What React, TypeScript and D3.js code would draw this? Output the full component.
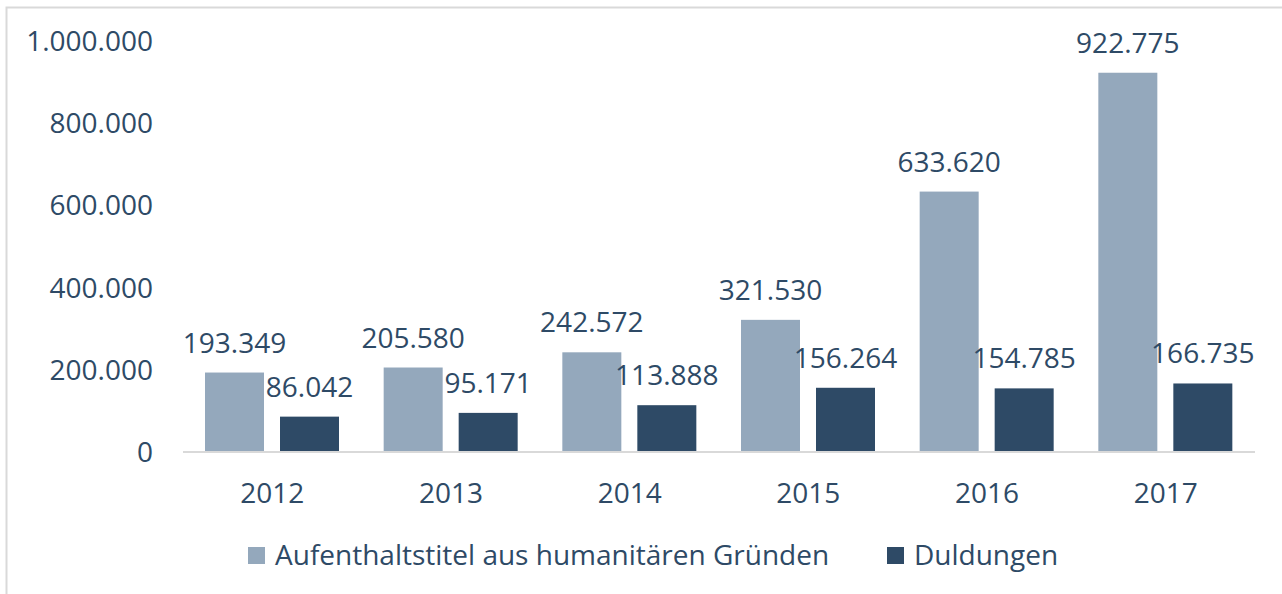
import { useEffect, useRef } from 'react';
import * as d3 from 'd3';

const years = ['2012', '2013', '2014', '2015', '2016', '2017'];
const humanitaer = [193349, 205580, 242572, 321530, 633620, 922775];
const duldungen = [86042, 95171, 113888, 156264, 154785, 166735];
const yTicks = [0, 200000, 400000, 600000, 800000, 1000000];
const seriesNames = ['Aufenthaltstitel aus humanitären Gründen', 'Duldungen'];
const colors = ['#94a8bc', '#2e4a66'];

const W = 1282;
const H = 594;
const FONT = '"Open Sans", sans-serif';
const FS = 28;
const TEXT = '#2e4a66';

// german number format: 1.000.000
const fmt = (v: number) => d3.format(',')(v).replace(/,/g, '.');

export default function App() {
    const ref = useRef<SVGSVGElement>(null);

    useEffect(() => {
        const svg = d3.select(ref.current);
        svg.selectAll('*').remove();

        // frame of the original chart area
        svg.append('path')
            .attr('d', `M6.5,${H} L6.5,7.5 L${W},7.5`)
            .attr('fill', 'none')
            .attr('stroke', '#d9d9d9')
            .attr('stroke-width', 2);

        const x0 = d3.scaleBand().domain(years).range([183, 1255]);
        const y = d3.scaleLinear().domain([0, 1000000]).range([452, 41]);
        const barW = 59;
        const gap = 16;
        const padL = 22;

        // y tick labels
        svg.append('g').selectAll('text')
            .data(yTicks)
            .enter().append('text')
            .attr('x', 153)
            .attr('y', d => y(d))
            .attr('dy', '0.357em')
            .attr('text-anchor', 'end')
            .attr('font-family', FONT)
            .attr('font-size', FS)
            .attr('fill', TEXT)
            .text(d => fmt(d));

        const series = [humanitaer, duldungen];
        series.forEach((vals, s) => {
            const g = svg.append('g');
            const bx = (i: number) => (x0(years[i]) as number) + padL + s * (barW + gap);
            g.selectAll('rect')
                .data(vals)
                .enter().append('rect')
                .attr('x', (d, i) => bx(i))
                .attr('y', d => y(d))
                .attr('width', barW)
                .attr('height', d => y(0) - y(d))
                .attr('fill', colors[s]);
            g.selectAll('text')
                .data(vals)
                .enter().append('text')
                .attr('x', (d, i) => bx(i) + barW / 2)
                .attr('y', d => y(d) - 20)
                .attr('text-anchor', 'middle')
                .attr('font-family', FONT)
                .attr('font-size', FS)
                .attr('fill', TEXT)
                .text(d => fmt(d));
        });

        // baseline
        svg.append('line')
            .attr('x1', 183).attr('x2', 1255)
            .attr('y1', 452).attr('y2', 452)
            .attr('stroke', '#d9d9d9')
            .attr('stroke-width', 2);

        // year labels
        svg.append('g').selectAll('text')
            .data(years)
            .enter().append('text')
            .attr('x', d => (x0(d) as number) + x0.bandwidth() / 2)
            .attr('y', 503)
            .attr('text-anchor', 'middle')
            .attr('font-family', FONT)
            .attr('font-size', FS)
            .attr('fill', TEXT)
            .text(d => d);

        // legend
        const legX = [248, 887];
        seriesNames.forEach((name, s) => {
            svg.append('rect')
                .attr('x', legX[s]).attr('y', 547)
                .attr('width', 17).attr('height', 17)
                .attr('fill', colors[s]);
            svg.append('text')
                .attr('x', legX[s] + 27)
                .attr('y', 565)
                .attr('font-family', FONT)
                .attr('font-size', FS)
                .attr('fill', TEXT)
                .text(name);
        });
    }, []);

    return (
        <svg
            ref={ref}
            width={W}
            height={H}
            style={{ display: 'block', position: 'absolute', left: 0, top: 0, background: '#fff' }}
        />
    );
}
